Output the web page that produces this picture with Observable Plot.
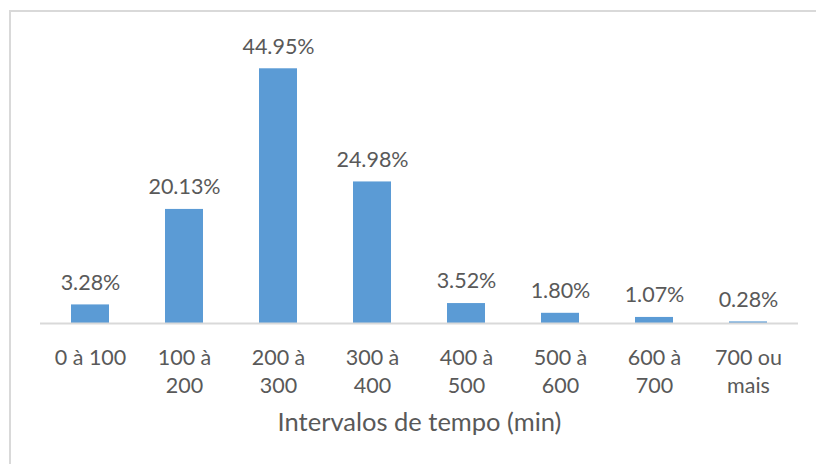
<!DOCTYPE html>
<html>
<head>
<meta charset="utf-8">
<script src="https://cdn.jsdelivr.net/npm/d3@7"></script>
<script src="https://cdn.jsdelivr.net/npm/@observablehq/plot@0.6"></script>
<style>
  html, body { margin: 0; padding: 0; background: #fff; }
  #wrap { position: relative; width: 816px; height: 464px; overflow: hidden; }
  #frame { position: absolute; left: 9px; top: 10px; right: -4px; bottom: -4px;
           border-left: 2px solid #d9d9d9; border-top: 2px solid #d9d9d9; pointer-events: none; }
  #chart { position: absolute; left: 0; top: 0; }
</style>
</head>
<body>
<div id="wrap"><div id="chart"></div><div id="frame"></div></div>
<script>
// Intervalos de tempo (min) e percentagem em cada intervalo
const categories = ["0 à 100", "100 à 200", "200 à 300", "300 à 400", "400 à 500", "500 à 600", "600 à 700", "700 ou mais"];
const tickLabels = ["0 à 100", "100 à\n200", "200 à\n300", "300 à\n400", "400 à\n500", "500 à\n600", "600 à\n700", "700 ou\nmais"];
const values = [3.28, 20.13, 44.95, 24.98, 3.52, 1.80, 1.07, 0.28];
const axisTitle = "Intervalos de tempo (min)";

const data = categories.map((c, i) => ({ category: c, value: values[i], tick: tickLabels[i] }));
const tickOf = new Map(data.map(d => [d.category, d.tick]));

const font = "Lato, 'Open Sans', sans-serif";
const gray = "#595959";

const chart = Plot.plot({
  width: 816,
  height: 464,
  marginLeft: 40,
  marginRight: 18,
  marginTop: 68,
  marginBottom: 141,
  style: { fontFamily: font, color: gray, background: "transparent" },
  x: { domain: categories, paddingInner: 0.6, paddingOuter: 0.3, label: null },
  y: { domain: [0, 45], axis: null },
  marks: [
    Plot.barY(data, { x: "category", y: "value", fill: "#5b9bd5" }),
    Plot.ruleY([0], { stroke: "#d9d9d9", strokeWidth: 2 }),
    Plot.text(data, {
      x: "category", y: "value",
      text: d => d.value.toFixed(2) + "%",
      dy: -22, fontSize: 21.5, fill: gray, lineAnchor: "middle"
    }),
    Plot.axisX({
      tickSize: 0, tickPadding: 21, fontSize: 21.5, lineHeight: 1.33,
      tickFormat: c => tickOf.get(c), fill: gray, label: null
    }),
    Plot.text([axisTitle], {
      frameAnchor: "bottom", dy: 99, fontSize: 25.5, fill: gray, lineAnchor: "middle"
    })
  ]
});
document.getElementById("chart").appendChild(chart);
</script>
</body>
</html>
